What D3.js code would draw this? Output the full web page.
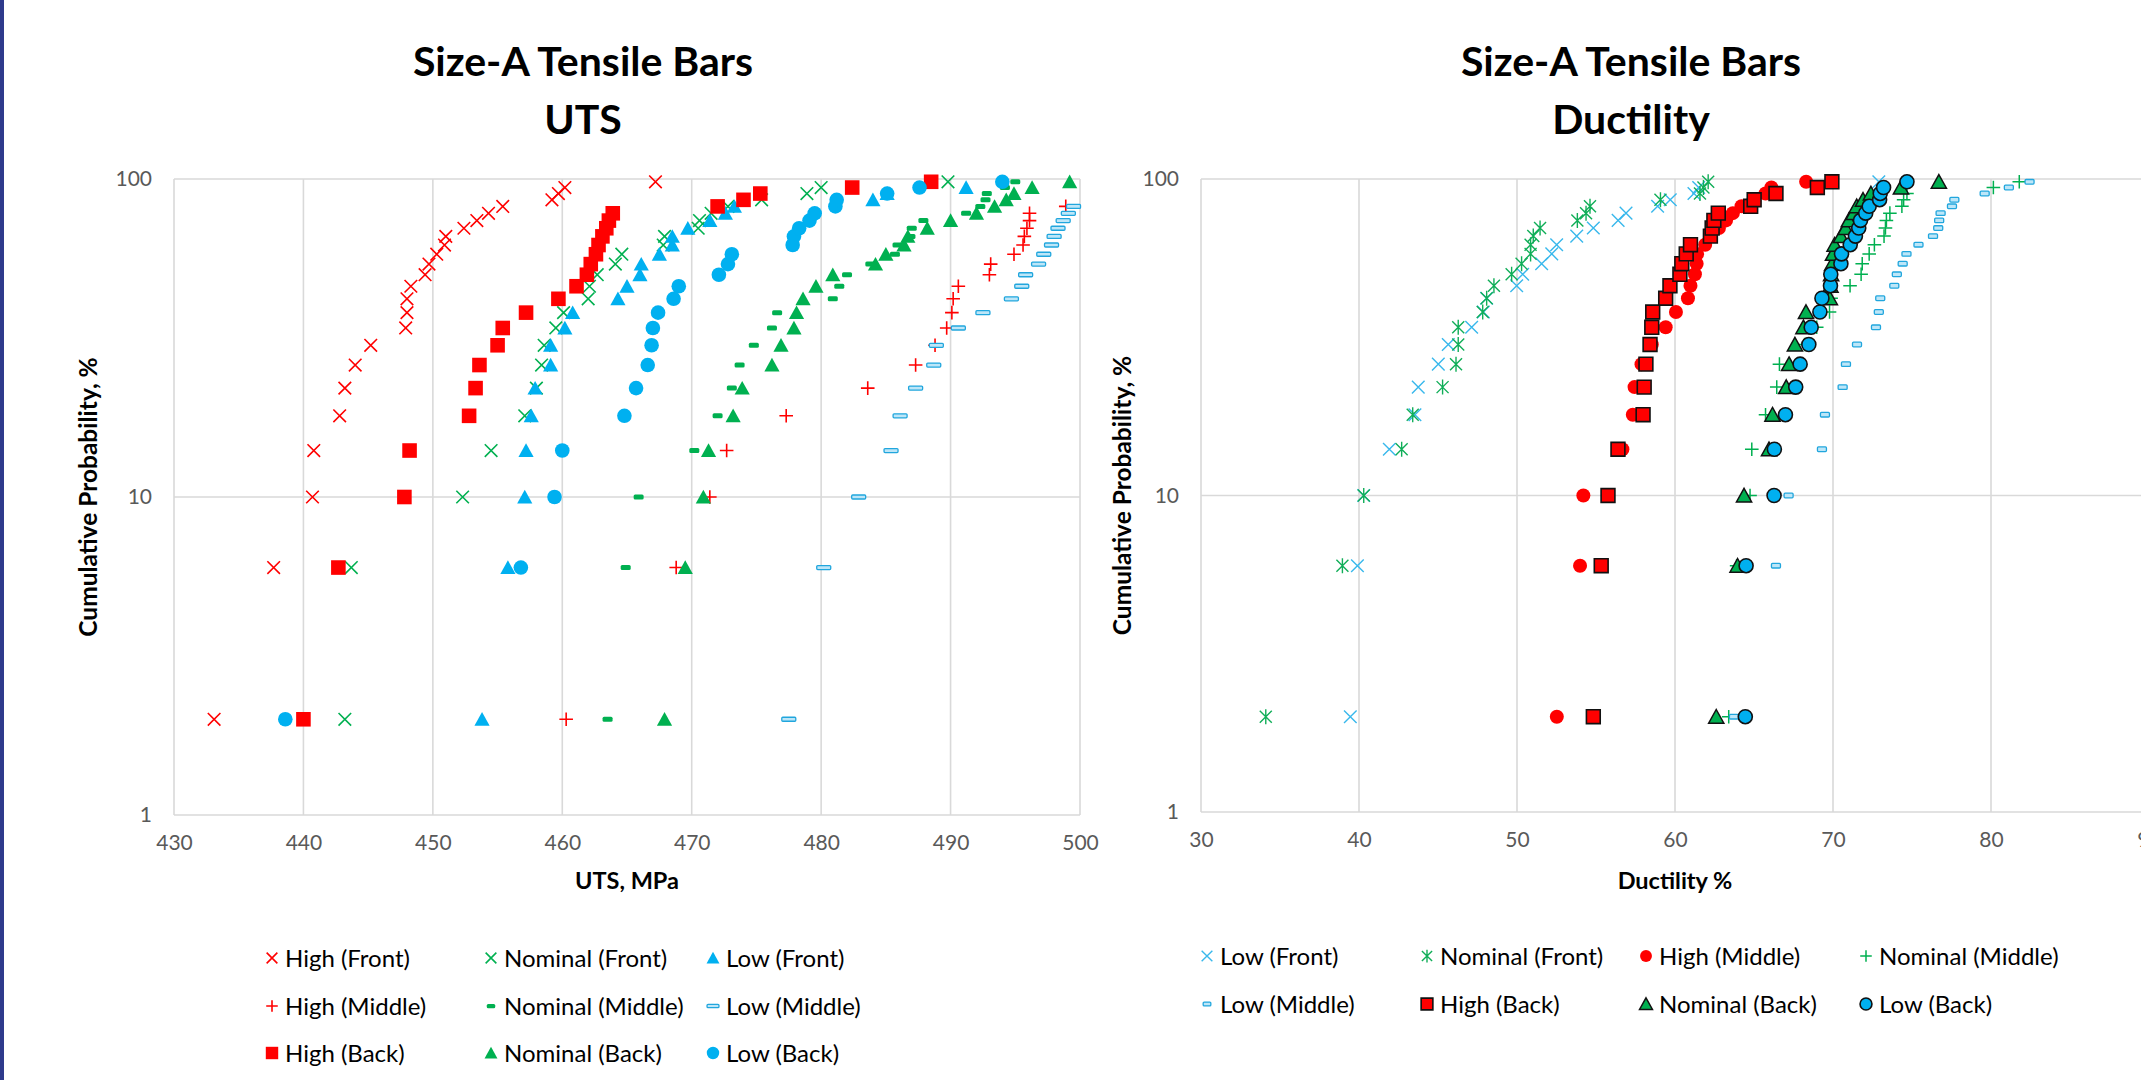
<!DOCTYPE html>
<html><head><meta charset="utf-8">
<script src="https://cdn.jsdelivr.net/npm/d3@7"></script>
<style>
body{margin:0;background:#fff;overflow:hidden}
svg{display:block}
text{font-family:Lato,"Open Sans",sans-serif}
</style>
</head><body>
<svg id="chart" width="2141" height="1080"></svg>
<script>
// ---------- DATA ----------
const probs = [2,6,10,14,18,22,26,30,34,38,42,46,50,54,58,62,66,70,74,78,82,86,90,94,98];

const utsTicks = [430,440,450,460,470,480,490,500];
const ductTicks = [30,40,50,60,70,80,90];
const probTicks = [1,10,100];

// UTS, MPa
const utsHighFront = [433.1,437.7,440.7,440.8,442.8,443.2,444.0,445.2,447.9,448.0,448.0,448.3,449.4,449.7,450.3,450.9,451.0,452.4,453.4,454.3,455.4,459.2,459.7,460.2,467.2];
const utsNomFront  = [443.2,443.7,452.3,454.5,457.1,458.0,458.4,458.6,459.5,460.1,462.0,462.1,462.7,464.1,464.6,467.8,467.9,470.5,470.6,471.5,472.8,475.4,478.9,480.0,489.8];
const utsLowFront  = [453.8,455.8,457.1,457.2,457.6,457.9,459.1,459.1,460.2,460.8,464.3,465.0,466.0,466.1,467.5,468.5,468.5,469.7,471.4,472.6,473.3,484.0,485.1,491.2,501.0];
const utsHighMid   = [460.3,468.8,471.4,472.7,477.3,483.6,487.3,488.8,489.7,490.1,490.2,490.6,493.0,493.1,494.9,495.6,495.7,495.9,496.1,496.1,498.9,501.0,502.0,503.0,505.0];
const utsNomMid    = [463.5,464.9,465.9,470.2,472.0,473.1,473.7,474.8,476.2,476.6,480.9,481.4,482.0,483.8,485.7,485.9,486.9,487.0,487.9,491.2,492.3,492.7,492.8,494.2,495.0];
const utsLowMid    = [477.5,480.2,482.9,485.4,486.1,487.3,488.7,488.9,490.6,492.5,494.7,495.5,495.8,496.8,497.2,497.8,498.0,498.3,498.7,499.1,499.5,500.6,501.2,502.0,503.0];
const utsHighBack  = [440.0,442.7,447.8,448.2,452.8,453.3,453.6,455.0,455.4,457.2,459.7,461.1,461.9,462.2,462.6,462.8,463.1,463.4,463.6,463.9,472.0,474.0,475.3,482.4,488.5];
const utsNomBack   = [467.9,469.5,470.9,471.3,473.2,473.9,476.2,476.9,477.9,478.1,478.6,479.6,480.9,484.2,485.0,486.4,486.7,488.2,490.0,492.0,493.4,494.3,494.9,496.3,499.2];
const utsLowBack   = [438.6,456.8,459.4,460.0,464.8,465.7,466.6,466.9,467.0,467.4,468.6,469.0,472.1,472.8,473.1,477.8,477.9,478.3,479.1,479.5,481.1,481.2,485.1,487.6,494.0];

// Ductility, %
const dLowFront  = [39.45,39.9,40.3,41.92,43.54,43.75,45.02,45.65,47.13,47.87,48.08,49.98,50.36,51.56,52.20,52.51,53.78,54.83,56.4,56.9,58.9,59.7,61.2,61.5,72.9];
const dNomFront  = [34.1,38.95,40.3,42.70,43.40,45.29,46.14,46.28,46.28,47.83,48.08,48.54,49.66,50.29,50.86,50.86,51.03,51.46,53.82,54.37,54.62,59.08,61.58,61.8,62.1];
const dHighMid   = [52.52,53.99,54.2,56.67,57.33,57.44,57.88,58.53,59.41,60.06,60.82,60.98,61.26,61.37,61.4,61.91,62.24,62.78,63.23,63.66,64.21,64.97,65.73,66.1,68.3];
const dNomMid    = [63.4,63.9,64.75,64.86,65.73,66.44,66.61,68.2,68.97,69.78,69.88,71.08,71.78,71.85,72.29,72.62,73.23,73.32,73.38,73.60,74.36,74.47,74.68,80.15,81.79];
const dLowMid    = [63.73,66.39,67.19,69.30,69.49,70.61,70.82,71.52,72.72,72.90,72.99,73.88,74.04,74.41,74.65,75.41,76.33,76.66,76.72,76.81,77.53,77.68,79.6,81.13,82.44];
const dHighBack  = [54.83,55.33,55.76,56.39,57.98,58.05,58.16,58.42,58.53,58.59,59.41,59.68,60.31,60.43,60.71,60.98,62.24,62.35,62.46,62.74,64.79,65.01,66.39,69.01,69.93];
const dNomBack   = [62.61,63.96,64.37,65.95,66.17,67.04,67.22,67.59,68.13,68.29,69.80,69.84,69.88,69.95,70.0,70.1,70.5,70.8,71.0,71.3,71.5,71.9,72.4,74.3,76.7];
const dLowBack   = [64.45,64.5,66.27,66.29,66.99,67.64,67.92,68.47,68.62,69.17,69.30,69.84,69.86,70.50,70.54,71.09,71.42,71.63,71.74,72.07,72.29,72.95,72.99,73.2,74.68];

// ---------- STYLES ----------
const RED = "#FF0000", GREEN = "#00B050", BLUE = "#00B0F0";
const PATHS = {
  x:    s => `M${-s},${-s}L${s},${s}M${-s},${s}L${s},${-s}`,
  plus: s => `M${-s},0H${s}M0,${-s}V${s}`,
  star: s => `M${-s},${-s}L${s},${s}M${-s},${s}L${s},${-s}M0,${-s*1.25}V${s*1.25}`,
  sq:   s => `M${-s},${-s}H${s}V${s}H${-s}Z`,
  tri:  s => `M0,${-s*0.95}L${s},${s*0.85}L${-s},${s*0.85}Z`,
  circ: s => `M${s},0A${s},${s} 0 1,1 ${-s},0A${s},${s} 0 1,1 ${s},0Z`
};
function drawMarker(g, st, k) {
  if (st.shape === "rect") {
    g.append("rect").attr("x", -st.w*k/2).attr("y", -st.h*k/2)
      .attr("width", st.w*k).attr("height", st.h*k).attr("rx", st.rx||0)
      .attr("fill", st.fill).attr("stroke", st.stroke||"none").attr("stroke-width", st.sw||0);
  } else {
    g.append("path").attr("d", PATHS[st.shape](st.size*k))
      .attr("fill", st.fill||"none").attr("stroke", st.stroke||"none")
      .attr("stroke-width", st.sw||0).attr("stroke-linejoin","miter");
  }
}

const utsSeries = [
  {name:"High (Front)",    values:utsHighFront, st:{shape:"x", size:6.3, stroke:RED, sw:1.6}},
  {name:"Nominal (Front)", values:utsNomFront,  st:{shape:"x", size:6.3, stroke:GREEN, sw:1.6}},
  {name:"Low (Front)",     values:utsLowFront,  st:{shape:"tri", size:7.6, fill:BLUE}},
  {name:"High (Middle)",   values:utsHighMid,   st:{shape:"plus", size:6.8, stroke:RED, sw:1.6}},
  {name:"Nominal (Middle)",values:utsNomMid,    st:{shape:"rect", w:10, h:5, rx:1.5, fill:GREEN}},
  {name:"Low (Middle)",    values:utsLowMid,    st:{shape:"rect", w:14, h:4, rx:1, fill:"#BDE6F8", stroke:"#21A6DD", sw:1.3}},
  {name:"High (Back)",     values:utsHighBack,  st:{shape:"sq", size:7.3, fill:RED}},
  {name:"Nominal (Back)",  values:utsNomBack,   st:{shape:"tri", size:7.6, fill:GREEN}},
  {name:"Low (Back)",      values:utsLowBack,   st:{shape:"circ", size:7.3, fill:BLUE}}
];
const ductSeries = [
  {name:"Low (Front)",     values:dLowFront, st:{shape:"x", size:6.3, stroke:"#38B8EC", sw:1.4}},
  {name:"Nominal (Front)", values:dNomFront, st:{shape:"star", size:6.0, stroke:"#10AE58", sw:1.4}},
  {name:"High (Middle)",   values:dHighMid,  st:{shape:"circ", size:7.0, fill:RED}},
  {name:"Nominal (Middle)",values:dNomMid,   st:{shape:"plus", size:6.8, stroke:GREEN, sw:1.5}},
  {name:"Low (Middle)",    values:dLowMid,   st:{shape:"rect", w:9, h:4.6, rx:1, fill:"#BDE6F8", stroke:"#21A6DD", sw:1.3}},
  {name:"High (Back)",     values:dHighBack, st:{shape:"sq", size:6.9, fill:RED, stroke:"#111", sw:1.6}},
  {name:"Nominal (Back)",  values:dNomBack,  st:{shape:"tri", size:7.6, fill:GREEN, stroke:"#111", sw:1.5}},
  {name:"Low (Back)",      values:dLowBack,  st:{shape:"circ", size:7.0, fill:BLUE, stroke:"#111", sw:1.6}}
];

// ---------- DRAW ----------
const svg = d3.select("#chart");
svg.append("rect").attr("width",2141).attr("height",1080).attr("fill","#fff");
svg.append("rect").attr("x",0).attr("y",0).attr("width",4).attr("height",1080).attr("fill","#2E3A8C");

function drawChart(cfg) {
  const g = svg.append("g");
  const x = d3.scaleLinear().domain(cfg.xDomain).range([cfg.left, cfg.right]);
  const y = d3.scaleLog().domain([1,100]).range([cfg.bottom, cfg.top]);
  const GRID = "#D9D9D9";

  // gridlines
  g.append("g").selectAll("line").data(cfg.xTicks).join("line")
    .attr("x1", d=>x(d)).attr("x2", d=>x(d)).attr("y1", cfg.top).attr("y2", cfg.bottom)
    .attr("stroke", GRID).attr("stroke-width", 1.6);
  g.append("g").selectAll("line").data(probTicks).join("line")
    .attr("x1", cfg.left).attr("x2", cfg.right).attr("y1", d=>y(d)).attr("y2", d=>y(d))
    .attr("stroke", GRID).attr("stroke-width", 1.6);

  // tick labels
  const ax = g.append("g").attr("transform", `translate(0,${cfg.bottom})`)
    .call(d3.axisBottom(x).tickValues(cfg.xTicks).tickSize(0).tickPadding(20).tickFormat(d3.format("d")));
  ax.select(".domain").remove();
  ax.selectAll("text").attr("font-size", 21).attr("fill", "#595959").attr("font-family","Lato");
  const ay = g.append("g").attr("transform", `translate(${cfg.left},0)`)
    .call(d3.axisLeft(y).tickValues(probTicks).tickSize(0).tickPadding(22).tickFormat(d3.format("d")));
  ay.select(".domain").remove();
  ay.selectAll("text").attr("font-size", 21).attr("fill", "#595959").attr("font-family","Lato");

  // title
  const t = g.append("text").attr("x", cfg.titleX).attr("text-anchor","middle")
    .attr("font-weight","bold").attr("font-size", 41).attr("fill","#000");
  cfg.title.forEach((s,i)=> t.append("tspan").attr("x", cfg.titleX).attr("y", 76 + i*58).text(s));

  // axis titles
  g.append("text").attr("x", (cfg.left+cfg.right)/2).attr("y", 889)
    .attr("text-anchor","middle").attr("font-weight","bold").attr("font-size",23.5).text(cfg.xTitle);
  g.append("text").attr("transform", `translate(${cfg.yTitleX},${(cfg.top+cfg.bottom)/2}) rotate(-90)`)
    .attr("text-anchor","middle").attr("font-weight","bold").attr("font-size",24.5).text("Cumulative Probability, %");

  // points
  cfg.series.forEach(s => {
    const pts = s.values.map((v,i)=>({v, p:probs[i]}))
      .filter(d => d.v >= cfg.xDomain[0] && d.v <= cfg.xDomain[1]);
    g.append("g").selectAll("g").data(pts).join("g")
      .attr("transform", d=>`translate(${x(d.v)},${y(d.p)})`)
      .each(function(){ drawMarker(d3.select(this), s.st, 1); });
  });

  // legend
  cfg.series.forEach((s,i) => {
    const col = i % cfg.legCols, row = Math.floor(i / cfg.legCols);
    const lx = cfg.legX[col], ly = cfg.legY[row];
    const lg = g.append("g").attr("transform", `translate(${lx},${ly})`);
    drawMarker(lg, s.st, 0.85);
    lg.append("text").attr("x", cfg.legTextDx).attr("y", 8.5).attr("font-size", 24)
      .attr("fill","#000").text(s.name);
  });
}

drawChart({
  left:174, right:1080, top:179, bottom:815,
  xDomain:[430,500], xTicks:utsTicks, series:utsSeries,
  title:["Size-A Tensile Bars","UTS"], titleX:583,
  xTitle:"UTS, MPa", yTitleX:97,
  legCols:3, legX:[272,491,713], legY:[958,1006,1053], legTextDx:13
});
drawChart({
  left:1201, right:2149, top:179, bottom:812,
  xDomain:[30,90], xTicks:ductTicks, series:ductSeries,
  title:["Size-A Tensile Bars","Ductility"], titleX:1631,
  xTitle:"Ductility %", yTitleX:1131,
  legCols:4, legX:[1207,1427,1646,1866], legY:[956,1004], legTextDx:13
});
</script>
</body></html>
